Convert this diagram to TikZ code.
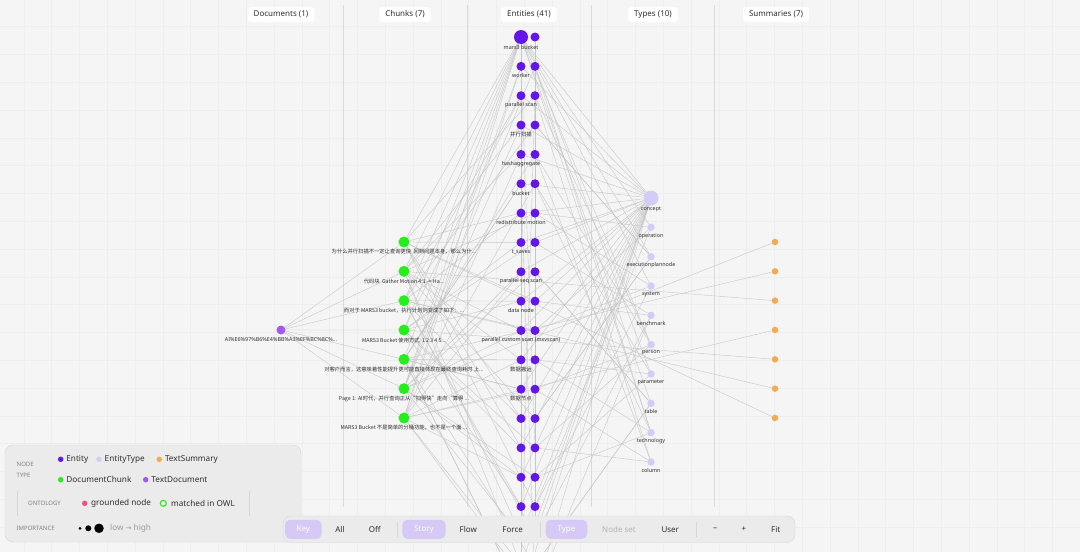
\documentclass[tikz,border=0pt]{standalone}
\usepackage{fontspec}
\setmainfont{Noto Sans}
\newfontfamily\cjk{Noto Sans CJK SC}
\newfontfamily\symf{DejaVu Sans}
\usepackage{xcolor}
\usepackage{tikz}
\usetikzlibrary{backgrounds}

\definecolor{bgcol}{HTML}{F5F5F5}
\definecolor{gridcol}{HTML}{EEEEEE}
\definecolor{divcol}{HTML}{DADADA}
\definecolor{edgecol}{HTML}{C6C6C6}
\definecolor{entcol}{HTML}{6416E8}
\definecolor{typecol}{HTML}{D4CCF8}
\definecolor{sumcol}{HTML}{F5AA4E}
\definecolor{chunkcol}{HTML}{24EE1C}
\definecolor{doccol}{HTML}{A458F0}
\definecolor{pinkcol}{HTML}{F0508C}
\definecolor{selcol}{HTML}{D6C9F5}
\definecolor{panelcol}{HTML}{EBEBEB}
\definecolor{panelline}{HTML}{D6D6D6}
\definecolor{txtcol}{HTML}{2E2E2E}
\definecolor{mutecol}{HTML}{808080}

\tikzset{
  dot/.style={circle, inner sep=0pt, minimum size=#1},
  ent/.style={dot=9pt, fill=entcol},
  typ/.style={dot=7.5pt, fill=typecol},
  summ/.style={dot=6.5pt, fill=sumcol},
  chunk/.style={dot=11pt, fill=chunkcol},
  textdoc/.style={dot=9pt, fill=doccol},
  lab/.style={font=\fontsize{5.4}{6}\selectfont, text=txtcol, inner sep=0pt},
  head/.style={font=\fontsize{8}{9}\selectfont, text=txtcol, fill=white,
    rounded corners=3pt, inner xsep=6pt, minimum height=15pt},
  edge/.style={draw=edgecol, line width=0.4pt},
  legtxt/.style={font=\fontsize{8.2}{9}\selectfont, text=txtcol, anchor=west, inner sep=0pt},
  legcap/.style={font=\fontsize{6}{7}\selectfont\bfseries, text=mutecol, anchor=west, inner sep=0pt},
  btn/.style={font=\fontsize{8}{9}\selectfont, text=txtcol, inner sep=0pt},
  selbtn/.style={fill=selcol, rounded corners=5pt, minimum height=19pt, text=white,
    font=\fontsize{8}{9}\selectfont},
  sep/.style={draw=panelline, line width=0.6pt}
}

\begin{document}
\begin{tikzpicture}[x=1pt,y=-1pt]
  \useasboundingbox (0,0) rectangle (1080,552);

  % canvas, grid and column dividers
  \begin{scope}[on background layer]
    \fill[bgcol] (0,0) rectangle (1080,552);
    \foreach \gx in {0,...,38}
      \draw[gridcol, line width=0.5pt] ({23.8+\gx*27.8},0) -- ++(0,552);
    \foreach \gy in {0,...,19}
      \draw[gridcol, line width=0.5pt] (0,{-1.1+\gy*27.8}) -- ++(1080,0);
    \foreach \dx in {343,467,591,714}
      \draw[divcol, line width=0.6pt] (\dx,5) -- (\dx,507);
  \end{scope}

  % column headers
  \node[head] (hdoc) at (281,14.5) {Documents (1)};
  \node[head] (hchunk) at (405,14.5) {Chunks (7)};
  \node[head] (hent) at (529,14.5) {Entities (41)};
  \node[head] (htype) at (653,14.5) {Types (10)};
  \node[head] (hsum) at (776,14.5) {Summaries (7)};

  % document
  \node[textdoc] (d) at (281,330) {};
  \node[lab] (dlab) at ([yshift=-9.5pt]d) {AI\%E6\%97\%B6\%E4\%BB\%A3\%EF\%BC\%8C\%...};

  % chunks
  \foreach \i/\t in {
    1/{为什么并行扫描不一定让查询更快\ \ 回到问题本身，那么为什...},
    2/{代码块\ \ Gather Motion 4:1 -> Ha...},
    3/{而对于 MARS3 bucket，执行计划则变成了如下：...},
    4/{MARS3 Bucket 使用方式\ \ 1 2 3 4 5...},
    5/{对客户而言，这意味着性能提升更可能直接体现在最终查询耗时 上...},
    6/{Page 1: AI时代，并行查询正从“扫得快”走向“算得 ...},
    7/{MARS3 Bucket 不是简单的分桶功能，也不是一个面 ...}} {
    \node[chunk] (c\i) at (404,{242+(\i-1)*29.33}) {};
    \node[lab, font=\cjk\fontsize{5.3}{6}\selectfont] (c\i lab) at ([yshift=-10pt]c\i) {\t};
  }

  % entities
  \node[ent, minimum size=14pt] (l1) at (521,37) {};
  \node[ent] (r1) at (535,37) {};
  \foreach \i in {2,...,20} {
    \node[ent] (l\i) at (521,{37+(\i-1)*29.35}) {};
    \node[ent] (r\i) at (535,{37+(\i-1)*29.35}) {};
  }
  \node[lab] (l1lab) at ([yshift=-10.5pt]l1) {mars3 bucket};
  \foreach \i/\t in {2/worker,3/parallel scan,4/{\cjk 并行扫描},5/hashaggregate,
    6/bucket,7/redistribute motion,8/t\_saves,9/parallel seq scan,10/data node,
    11/parallel custom scan (mxvscan),12/{\cjk 数据搬运},13/{\cjk 数据节点}}
    \node[lab] (l\i lab) at ([yshift=-9.5pt]l\i) {\t};

  % types
  \node[typ, minimum size=15pt] (t1) at (651,198) {};
  \node[lab] (t1lab) at ([yshift=-11pt]t1) {concept};
  \foreach \j/\t in {2/operation,3/executionplannode,4/system,5/benchmark,
    6/person,7/parameter,8/table,9/technology,10/column} {
    \node[typ] (t\j) at (651,{198+(\j-1)*29.33}) {};
    \node[lab] (t\j lab) at ([yshift=-8.5pt]t\j) {\t};
  }

  % summaries
  \foreach \i in {1,...,7}
    \node[summ] (s\i) at (775,{242+(\i-1)*29.33}) {};

  % connectors
  \begin{scope}[on background layer]
    \foreach \i in {1,...,7} {
      \draw[edge] (d) -- (c\i);
      \draw[edge] (l1) -- (c\i);
    }
    \foreach \j in {1,2,3,4,6,8,9}
      \draw[edge] (l1) -- (t\j);
    \foreach \i in {2,...,20} {
      \pgfmathtruncatemacro\ca{mod(\i*3,7)+1}
      \pgfmathtruncatemacro\cb{mod(\i*5+2,7)+1}
      \pgfmathtruncatemacro\cc{mod(\i*2+1,7)+1}
      \pgfmathtruncatemacro\ta{mod(\i*3,10)+1}
      \pgfmathtruncatemacro\tb{mod(\i*7+4,10)+1}
      \draw[edge] (l\i) -- (c\ca);
      \draw[edge] (l\i) -- (c\cb);
      \draw[edge] (r\i) -- (c\cc);
      \draw[edge] (l\i) -- (t1);
      \draw[edge] (r\i) -- (t\ta);
      \draw[edge] (r\i) -- (t\tb);
    }
    \foreach \a/\b in {l1/l17,l1/l20,r1/r18,l2/r15,r3/l19,l4/l16,r2/r12,l6/r20}
      \draw[edge] (\a) -- (\b);
    \foreach \a/\b in {s1/c6,s2/c5,s3/c2,s4/c7,s5/c4,s6/c3,s7/c1}
      \draw[edge] (\a) -- (\b);
  \end{scope}

  % legend panel
  \draw[fill=panelcol, draw=panelline, rounded corners=8pt] (5,445) rectangle (301,542);
  \node[legcap] (ntype1) at (16.5,464) {NODE};
  \node[legcap] (ntype2) at (16.5,475) {TYPE};
  \foreach \n/\c/\x/\y/\t in {kent/entcol/60.7/459.3/Entity,
    ktyp/typecol/99/459.3/EntityType,
    ksum/sumcol/159.3/459.3/TextSummary,
    kchk/chunkcol/60.7/479.7/DocumentChunk,
    kdoc/doccol/145.7/479.7/TextDocument} {
    \node[dot=5.5pt, fill=\c] (\n) at (\x,\y) {};
    \node[legtxt] (\n txt) at ([xshift=5.5pt]\n.center) {\t};
  }
  \draw[sep] (17.3,491) -- (17.3,516);
  \node[legcap] (onto) at (28,503.3) {ONTOLOGY};
  \node[dot=5.5pt, fill=pinkcol] (kground) at (84.7,503.3) {};
  \node[legtxt] (kgroundtxt) at (91,503.3) {grounded node};
  \node[circle, draw=chunkcol, line width=1.1pt, minimum size=6pt, inner sep=0pt] (kowl) at (163.3,503.3) {};
  \node[legtxt] (kowltxt) at (171,503.3) {matched in OWL};
  \draw[sep] (249.3,491) -- (249.3,516);
  \node[legcap] (imp) at (16.5,528.3) {IMPORTANCE};
  \node[dot=3pt, fill=black] (imp1) at (80,528.3) {};
  \node[dot=6pt, fill=black] (imp2) at (88.3,528.3) {};
  \node[dot=9.5pt, fill=black] (imp3) at (99,528.3) {};
  \node[legtxt, text=mutecol!80] (imptxt) at (110,528.3) {low {\symf\fontsize{7}{8}\selectfont →} high};

  % toolbar
  \draw[fill=panelcol, draw=panelline, rounded corners=8pt] (283,516) rectangle (795,542.5);
  \node[selbtn, minimum width=36.7pt] (bkey) at (303.3,529.3) {Key};
  \node[btn] (ball) at (340,529.3) {All};
  \node[btn] (boff) at (374.7,529.3) {Off};
  \draw[sep] (397.3,522) -- (397.3,536.5);
  \node[selbtn, minimum width=43.4pt] (bstory) at (424,529.3) {Story};
  \node[btn] (bflow) at (468.3,529.3) {Flow};
  \node[btn] (bforce) at (512.7,529.3) {Force};
  \draw[sep] (540.7,522) -- (540.7,536.5);
  \node[selbtn, minimum width=41.6pt] (btype) at (566.5,529.3) {Type};
  \node[btn, text=mutecol!60] (bnodeset) at (619,529.3) {Node set};
  \node[btn] (buser) at (670.3,529.3) {User};
  \draw[sep] (696.7,522) -- (696.7,536.5);
  \node[btn] (bminus) at (715,529.3) {–};
  \node[btn] (bplus) at (744,529.3) {+};
  \node[btn] (bfit) at (775.7,529.3) {Fit};
\end{tikzpicture}
\end{document}
